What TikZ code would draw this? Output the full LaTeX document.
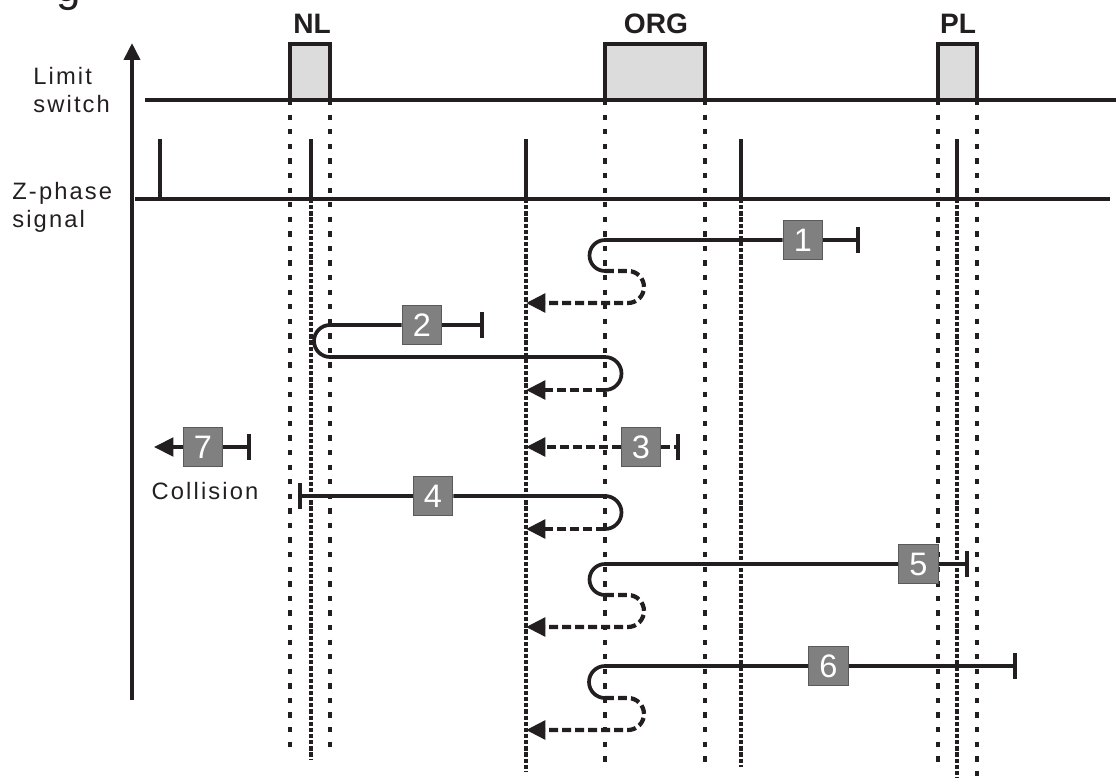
\documentclass[tikz,border=0pt]{standalone}
\usepackage{fontspec}
\setmainfont{Liberation Sans}
\newfontfamily\rotulo[LetterSpace=9]{Liberation Sans}
\usetikzlibrary{arrows.meta, positioning, calc}

\begin{document}
\begin{tikzpicture}[x=0.02cm, y=-0.02cm,
  legenda/.style={inner sep=0pt, text=ink, font=\rotulo\fontsize{13.5}{15.8}\selectfont},
  titulo/.style={inner sep=0pt, text=ink, font=\bfseries\fontsize{16}{16}\selectfont},
  caixa/.style={draw=caixaB, fill=caixaF, line width=0.6pt, minimum width=22.7pt, minimum height=22.1pt, inner sep=0pt, text=white, font=\fontsize{18.5}{18.5}\selectfont},
  chave/.style={draw=ink, fill=chaveF, line width=2pt},
  sinal/.style={draw=ink, line width=2pt},
  guia/.style={draw=ink, line width=2.3pt, dash pattern=on 3pt off 5.3pt},
  guiaz/.style={draw=ink, line width=1.9pt, dash pattern=on 2.4pt off 1.1pt},
  ida/.style={draw=ink, line width=2.1pt},
  volta/.style={draw=ink, line width=2.4pt, dash pattern=on 5.1pt off 2.3pt},
  seta/.style={-{Triangle[length=11pt, width=10.5pt]}},
  fim/.style={-{Bar[width=14.5pt]}}]
% --- DIAGRAMA DE TEMPO: CHAVES DE FIM DE CURSO E SINAL Z ---
\definecolor{ink}{HTML}{231F20}
\definecolor{chaveF}{HTML}{DCDCDC}
\definecolor{caixaF}{HTML}{808080}
\definecolor{caixaB}{HTML}{5A5A5A}
\useasboundingbox (0,0) rectangle (1116,778);

% LAYER 1: Titulo cortado e rotulos a esquerda
\node[inner sep=0pt, anchor=base west, text=ink, font=\fontsize{25}{25}\selectfont] (topo) at (56,1) {g};
\node[legenda, anchor=north west, align=left] (lsw) at (33,67) {Limit\\switch};
\node[legenda, anchor=north west, align=left] (zph) at (12,182) {Z-phase\\signal};

% LAYER 2: Eixo vertical
\draw[ink, line width=2.2pt, -{Triangle[length=9.6pt, width=9pt]}] (132,700) -- (132,43);

% LAYER 3: Linhas guia (bordas das chaves e pulsos Z)
\draw[guia] (290,100) -- (290,756);
\draw[guia] (330,100) -- (330,756);
\draw[guia] (605,100) -- (605,768);
\draw[guia] (705,100) -- (705,768);
\draw[guia] (938,100) -- (938,768);
\draw[guia] (977,100) -- (977,778);
\draw[guiaz] (311,199) -- (311,760);
\draw[guiaz] (526,199) -- (526,772);
\draw[guiaz] (741,199) -- (741,767);
\draw[guiaz] (957,199) -- (957,778);

% LAYER 4: Chaves NL, ORG, PL
\draw[chave] (290,44) rectangle (330,100);
\draw[chave] (605,44) rectangle (705,100);
\draw[chave] (938,44) rectangle (977,100);
\draw[sinal] (145,100) -- (1116,100);
\node[titulo, anchor=base] (nl) at (312,33) {NL};
\node[titulo, anchor=base] (org) at (656,33) {ORG};
\node[titulo, anchor=base] (pl) at (958,33) {PL};

% LAYER 5: Sinal de fase Z
\draw[sinal] (135,199) -- (1110,199);
\draw[sinal] (160,139) -- (160,199);
\draw[sinal] (311,139) -- (311,199);
\draw[sinal] (526,139) -- (526,199);
\draw[sinal] (741,139) -- (741,199);
\draw[sinal] (957,139) -- (957,199);

% LAYER 6: Caso 1
\node[caixa] (b1) at (803,240) {1};
\coordinate (f1) at (860,240);
\coordinate (t1) at (605,240);
\coordinate (s1) at (526,303);
\draw[ida, fim] (b1) -- (f1);
\draw[ida] (b1) -- (t1) arc[start angle=90, end angle=270, radius=0.31cm] coordinate (v1);
\draw[volta, seta] (v1) -- ++(23,0) arc[start angle=90, end angle=-90, radius=0.32cm] -- (s1);

% Caso 2
\node[caixa] (b2) at (422,325) {2};
\coordinate (f2) at (484,325);
\coordinate (t2) at (330,325);
\coordinate (s2) at (526,390);
\draw[ida, fim] (b2) -- (f2);
\draw[ida] (b2) -- (t2) arc[start angle=90, end angle=270, radius=0.32cm] -- (605,357) arc[start angle=90, end angle=-90, radius=0.33cm] coordinate (v2);
\draw[volta, seta] (v2) -- (s2 |- v2);

% Caso 3
\node[caixa] (b3) at (641,447) {3};
\coordinate (f3) at (680,447);
\coordinate (s3) at (526,447);
\draw[volta, fim] (b3) -- (f3);
\draw[volta, seta] (b3) -- (s3);

% Caso 7 (colisao)
\node[caixa] (b7) at (203,447) {7};
\coordinate (f7) at (251,447);
\coordinate (s7) at (154,447);
\draw[ida, fim] (b7) -- (f7);
\draw[ida, seta] (b7) -- (s7);
\node[legenda] (col) at (205,491) {Collision};

% Caso 4
\node[caixa] (b4) at (433,496) {4};
\coordinate (f4) at (298,496);
\coordinate (t4) at (605,496);
\coordinate (s4) at (526,529);
\draw[ida, fim] (b4) -- (f4);
\draw[ida] (b4) -- (t4) arc[start angle=90, end angle=-90, radius=0.33cm] coordinate (v4);
\draw[volta, seta] (v4) -- (s4 |- v4);

% Caso 5
\node[caixa] (b5) at (918.5,564) {5};
\coordinate (f5) at (969,564);
\coordinate (t5) at (605,564);
\coordinate (s5) at (526,627);
\draw[ida, fim] (b5) -- (f5);
\draw[ida] (b5) -- (t5) arc[start angle=90, end angle=270, radius=0.31cm] coordinate (v5);
\draw[volta, seta] (v5) -- ++(23,0) arc[start angle=90, end angle=-90, radius=0.32cm] -- (s5);

% Caso 6
\node[caixa] (b6) at (828.5,666) {6};
\coordinate (f6) at (1017,666);
\coordinate (t6) at (605,666);
\coordinate (s6) at (526,730);
\draw[ida, fim] (b6) -- (f6);
\draw[ida] (b6) -- (t6) arc[start angle=90, end angle=270, radius=0.32cm] coordinate (v6);
\draw[volta, seta] (v6) -- ++(23,0) arc[start angle=90, end angle=-90, radius=0.32cm] -- (s6);
\end{tikzpicture}
\end{document}
